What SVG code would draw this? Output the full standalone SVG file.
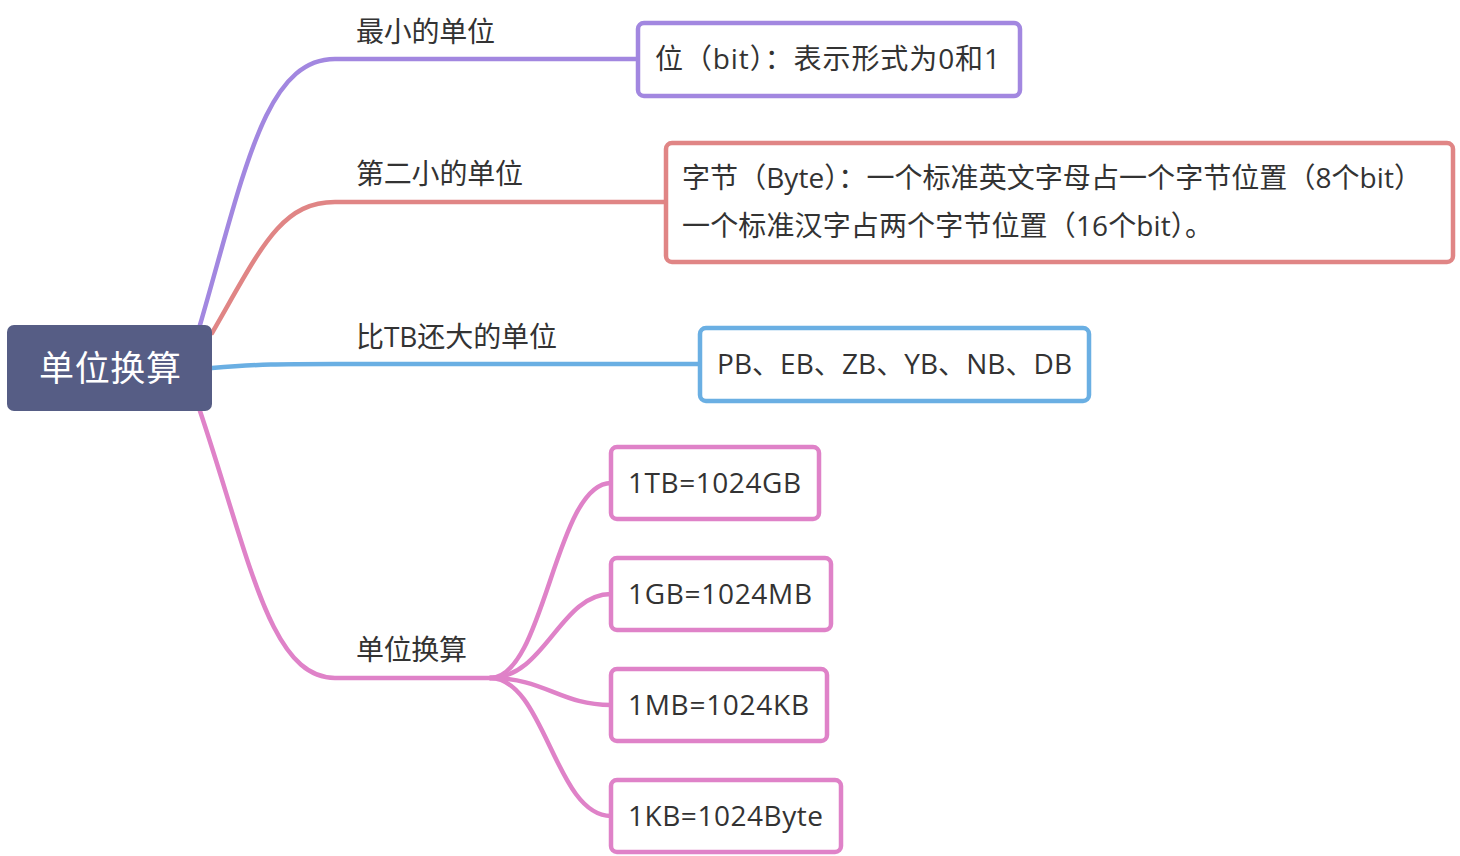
<svg xmlns="http://www.w3.org/2000/svg" width="1460" height="856" viewBox="0 0 1460 856">
<style>
.t{font-family:"Open Sans","Noto Sans CJK SC",sans-serif;font-size:28px;fill:#333}
.c{fill:none;stroke-width:4.5;stroke-linecap:round}
.b{fill:#fff;stroke-width:4.5}
</style>
<rect width="1460" height="856" fill="#fff"/>
<g id="connectors">
<path class="c" stroke="#A287E0" d="M200 325 C245 170 265 59 335 59 L638 59"/>
<path class="c" stroke="#E08585" d="M212 333 C260 250 280 202 335 202 L666 202"/>
<path class="c" stroke="#6AAFE3" d="M212 368 C260 364 280 364 335 364 L700 364"/>
<path class="c" stroke="#DF82C8" d="M200 411 C250 560 270 678 335 678 L495 678"/>
<path class="c" stroke="#DF82C8" d="M490 678 C545 678 555 483 611 483"/>
<path class="c" stroke="#DF82C8" d="M490 678 C545 678 560 594 611 594"/>
<path class="c" stroke="#DF82C8" d="M490 678 C545 678 560 705 611 705"/>
<path class="c" stroke="#DF82C8" d="M490 678 C545 678 555 816 611 816"/>
</g>
<g id="root">
<rect x="7" y="325" width="205" height="86" rx="7" fill="#565D85"/>
<text x="39" y="381" textLength="142" lengthAdjust="spacing" style="font-family:'Noto Sans CJK SC',sans-serif;font-size:35px;fill:#fff">单位换算</text>
</g>
<g id="label1"><text class="t" x="356" y="42" textLength="139" lengthAdjust="spacing">最小的单位</text></g>
<g id="label2"><text class="t" x="356" y="184" textLength="167" lengthAdjust="spacing">第二小的单位</text></g>
<g id="label3"><text class="t" x="356" y="347" textLength="201" lengthAdjust="spacing">比TB还大的单位</text></g>
<g id="label4"><text class="t" x="356" y="660" textLength="111" lengthAdjust="spacing">单位换算</text></g>
<g id="node-bit">
<rect class="b" x="638" y="23" width="382" height="73" rx="6" stroke="#A287E0"/>
<text class="t" x="655" y="69" textLength="345" lengthAdjust="spacing">位（bit）：表示形式为0和1</text>
</g>
<g id="node-byte">
<rect class="b" x="666" y="143" width="787" height="119" rx="6" stroke="#E08585"/>
<text class="t" x="682" y="188" textLength="740" lengthAdjust="spacing">字节（Byte）：一个标准英文字母占一个字节位置（8个bit）</text>
<text class="t" x="682" y="236" textLength="531" lengthAdjust="spacing">一个标准汉字占两个字节位置（16个bit）。</text>
</g>
<g id="node-pb">
<rect class="b" x="700" y="328" width="389" height="73" rx="6" stroke="#6AAFE3"/>
<text class="t" x="717" y="374" textLength="355" lengthAdjust="spacing">PB、EB、ZB、YB、NB、DB</text>
</g>
<g id="node-tb">
<rect class="b" x="611" y="447" width="208" height="72" rx="6" stroke="#DF82C8"/>
<text class="t" x="628" y="493" textLength="173" lengthAdjust="spacing">1TB=1024GB</text>
</g>
<g id="node-gb">
<rect class="b" x="611" y="558" width="220" height="72" rx="6" stroke="#DF82C8"/>
<text class="t" x="628" y="604" textLength="184" lengthAdjust="spacing">1GB=1024MB</text>
</g>
<g id="node-mb">
<rect class="b" x="611" y="669" width="216" height="72" rx="6" stroke="#DF82C8"/>
<text class="t" x="628" y="715" textLength="181" lengthAdjust="spacing">1MB=1024KB</text>
</g>
<g id="node-kb">
<rect class="b" x="611" y="780" width="230" height="72" rx="6" stroke="#DF82C8"/>
<text class="t" x="628" y="826" textLength="195" lengthAdjust="spacing">1KB=1024Byte</text>
</g>
</svg>
